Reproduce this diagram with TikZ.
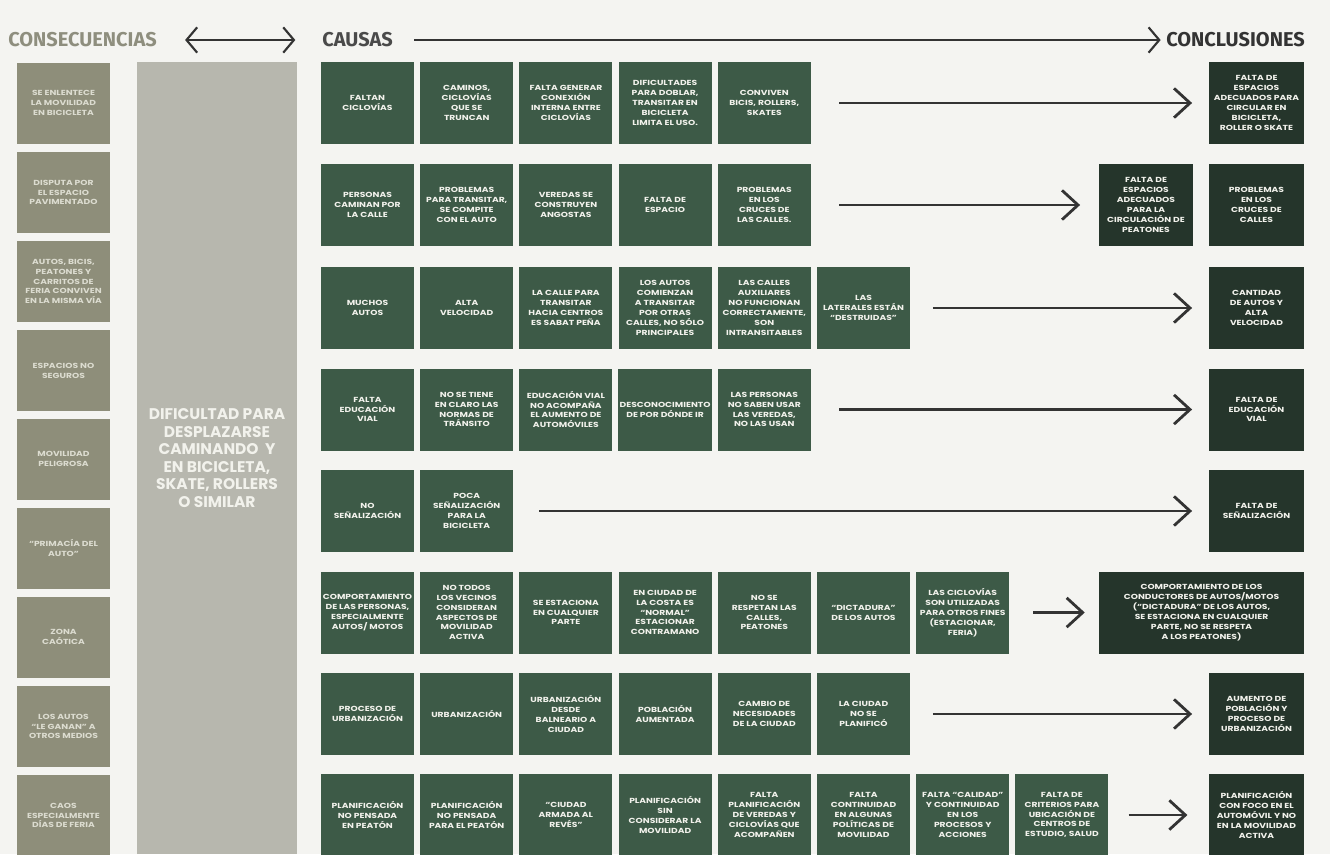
\documentclass[tikz,border=0pt]{standalone}
\usepackage{fontspec}
\newfontfamily\pop{Poppins}
\newfontfamily\popw[FakeStretch=1.25]{Poppins}
\newfontfamily\fira{Fira Sans}
\usetikzlibrary{arrows.meta}
\definecolor{bg}{HTML}{F4F4F1}
\definecolor{causeg}{HTML}{3D5A47}
\definecolor{concg}{HTML}{25352B}
\definecolor{consg}{HTML}{8E8E7A}
\definecolor{colg}{HTML}{B7B7AE}
\definecolor{arr}{HTML}{333333}
\definecolor{boxtxt}{HTML}{F2F2EC}
\definecolor{constxt}{HTML}{DCDCD0}
\definecolor{hgray}{HTML}{8E8E7E}
\definecolor{hdark}{HTML}{4A4A4A}
\definecolor{hdarker}{HTML}{333333}
\tikzset{
  fb/.tip={Straight Barb[length=12pt,width=22pt,line width=2.1pt]},
  hb/.tip={Straight Barb[length=8pt,width=19pt,line width=1.6pt]}
}
\begin{document}
\begin{tikzpicture}[x=0.75pt,y=-0.75pt,
  box/.style={rectangle, inner sep=1pt, align=center, text=boxtxt,
    font=\popw\bfseries\fontsize{5.5}{7.4}\selectfont,
    minimum width=69.75pt, minimum height=61.5pt},
  cause/.style={box, fill=causeg},
  concl/.style={box, fill=concg, minimum width=71.25pt},
  cons/.style={box, fill=consg, text=constxt, minimum height=60.75pt},
  flow/.style={draw=arr, line width=2pt, arrows={-fb}},
  harrow/.style={draw=arr, line width=1.5pt},
  hdr/.style={font=\fira\bfseries\fontsize{15}{17}\selectfont, inner sep=0pt}
]
\fill[bg] (0,0) rectangle (1330,854);
\useasboundingbox (0,0) rectangle (1330,854);

% header
\node[hdr, text=hgray, anchor=west] (hcons) at (8,40) {CONSECUENCIAS};
\node[hdr, text=hdark, anchor=west] (hcaus) at (322,40) {CAUSAS};
\node[hdr, text=hdarker, anchor=east] (hconc) at (1305,40) {CONCLUSIONES};
\draw[harrow, arrows={hb-hb}, shorten <=21pt, shorten >=20pt] (hcons.east) -- (hcaus.west);
\draw[harrow, arrows={-hb}, shorten <=16pt, shorten >=4pt] (hcaus.east) -- (hconc.west);

% consequences
\node[cons] (k1) at (63.5,103) {SE ENLENTECE\\LA MOVILIDAD\\EN BICICLETA};
\node[cons] (k2) at (63.5,192.5) {DISPUTA POR\\EL ESPACIO\\PAVIMENTADO};
\node[cons] (k3) at (63.5,281.5) {AUTOS, BICIS,\\PEATONES Y\\CARRITOS DE\\FERIA CONVIVEN\\EN LA MISMA VÍA};
\node[cons] (k4) at (63.5,370.5) {ESPACIOS NO\\SEGUROS};
\node[cons] (k5) at (63.5,459) {MOVILIDAD\\PELIGROSA};
\node[cons] (k6) at (63.5,548) {“PRIMACÍA DEL\\AUTO”};
\node[cons] (k7) at (63.5,637) {ZONA\\CAÓTICA};
\node[cons] (k8) at (63.5,726.5) {LOS AUTOS\\“LE GANAN” A\\OTROS MEDIOS};
\node[cons] (k9) at (63.5,815.5) {CAOS\\ESPECIALMENTE\\DÍAS DE FERIA};

% central problem
\node[fill=colg, minimum width=120pt, minimum height=594pt, inner sep=0pt, align=center,
  text=boxtxt, font=\pop\bfseries\fontsize{11.6}{13.1}\selectfont] (dif) at (217,458)
  {DIFICULTAD PARA\\DESPLAZARSE\\CAMINANDO\ \ Y\\EN BICICLETA,\\SKATE, ROLLERS\\O SIMILAR};

% row 1
\node[cause] (r1c1) at (367.5,103) {FALTAN\\CICLOVÍAS};
\node[cause] (r1c2) at (466.7,103) {CAMINOS,\\CICLOVÍAS\\QUE SE\\TRUNCAN};
\node[cause] (r1c3) at (565.9,103) {FALTA GENERAR\\CONEXIÓN\\INTERNA ENTRE\\CICLOVÍAS};
\node[cause] (r1c4) at (665.1,103) {DIFICULTADES\\PARA DOBLAR,\\TRANSITAR EN\\BICICLETA\\LIMITA EL USO.};
\node[cause] (r1c5) at (764.3,103) {CONVIVEN\\BICIS, ROLLERS,\\SKATES};
\node[concl] (r1k) at (1256.5,103) {FALTA DE\\ESPACIOS\\ADECUADOS PARA\\CIRCULAR EN\\BICICLETA,\\ROLLER O SKATE};
\draw[flow, shorten <=21pt, shorten >=12.5pt] (r1c5.east) -- (r1k.west);

% row 2
\node[cause] (r2c1) at (367.5,205) {PERSONAS\\CAMINAN POR\\LA CALLE};
\node[cause] (r2c2) at (466.7,205) {PROBLEMAS\\PARA TRANSITAR,\\SE COMPITE\\CON EL AUTO};
\node[cause] (r2c3) at (565.9,205) {VEREDAS SE\\CONSTRUYEN\\ANGOSTAS};
\node[cause] (r2c4) at (665.1,205) {FALTA DE\\ESPACIO};
\node[cause] (r2c5) at (764.3,205) {PROBLEMAS\\EN LOS\\CRUCES DE\\LAS CALLES.};
\node[concl, minimum width=70.5pt] (r2a) at (1146,205) {FALTA DE\\ESPACIOS\\ADECUADOS\\PARA LA\\CIRCULACIÓN DE\\PEATONES};
\node[concl] (r2k) at (1256.5,205) {PROBLEMAS\\EN LOS\\CRUCES DE\\CALLES};
\draw[flow, shorten <=21pt, shorten >=14pt] (r2c5.east) -- (r2a.west);

% row 3
\node[cause] (r3c1) at (367.5,308) {MUCHOS\\AUTOS};
\node[cause] (r3c2) at (466.7,308) {ALTA\\VELOCIDAD};
\node[cause] (r3c3) at (565.9,308) {LA CALLE PARA\\TRANSITAR\\HACIA CENTROS\\ES SABAT PEÑA};
\node[cause] (r3c4) at (665.1,308) {LOS AUTOS\\COMIENZAN\\A TRANSITAR\\POR OTRAS\\CALLES, NO SÓLO\\PRINCIPALES};
\node[cause] (r3c5) at (764.3,308) {LAS CALLES\\AUXILIARES\\NO FUNCIONAN\\CORRECTAMENTE,\\SON\\INTRANSITABLES};
\node[cause] (r3c6) at (863.5,308) {LAS\\LATERALES ESTÁN\\“DESTRUIDAS”};
\node[concl] (r3k) at (1256.5,308) {CANTIDAD\\DE AUTOS Y\\ALTA\\VELOCIDAD};
\draw[flow, shorten <=17pt, shorten >=12.5pt] (r3c6.east) -- (r3k.west);

% row 4
\node[cause] (r4c1) at (367.5,409.5) {FALTA\\EDUCACIÓN\\VIAL};
\node[cause] (r4c2) at (466.7,409.5) {NO SE TIENE\\EN CLARO LAS\\NORMAS DE\\TRÁNSITO};
\node[cause] (r4c3) at (565.9,409.5) {EDUCACIÓN VIAL\\NO ACOMPAÑA\\EL AUMENTO DE\\AUTOMÓVILES};
\node[cause] (r4c4) at (665.1,409.5) {DESCONOCIMIENTO\\DE POR DÓNDE IR};
\node[cause] (r4c5) at (764.3,409.5) {LAS PERSONAS\\NO SABEN USAR\\LAS VEREDAS,\\NO LAS USAN};
\node[concl] (r4k) at (1256.5,409.5) {FALTA DE\\EDUCACIÓN\\VIAL};
\draw[flow, shorten <=21pt, shorten >=12.5pt] (r4c5.east) -- (r4k.west);

% row 5
\node[cause] (r5c1) at (367.5,511) {NO\\SEÑALIZACIÓN};
\node[cause] (r5c2) at (466.7,511) {POCA\\SEÑALIZACIÓN\\PARA LA\\BICICLETA};
\node[concl] (r5k) at (1256.5,511) {FALTA DE\\SEÑALIZACIÓN};
\draw[flow, shorten <=19.5pt, shorten >=12.5pt] (r5c2.east) -- (r5k.west);

% row 6
\node[cause] (r6c1) at (367.5,612.5) {COMPORTAMIENTO\\DE LAS PERSONAS,\\ESPECIALMENTE\\AUTOS/ MOTOS};
\node[cause] (r6c2) at (466.7,612.5) {NO TODOS\\LOS VECINOS\\CONSIDERAN\\ASPECTOS DE\\MOVILIDAD\\ACTIVA};
\node[cause] (r6c3) at (565.9,612.5) {SE ESTACIONA\\EN CUALQUIER\\PARTE};
\node[cause] (r6c4) at (665.1,612.5) {EN CIUDAD DE\\LA COSTA ES\\“NORMAL”\\ESTACIONAR\\CONTRAMANO};
\node[cause] (r6c5) at (764.3,612.5) {NO SE\\RESPETAN LAS\\CALLES,\\PEATONES};
\node[cause] (r6c6) at (863.5,612.5) {“DICTADURA”\\DE LOS AUTOS};
\node[cause] (r6c7) at (962.7,612.5) {LAS CICLOVÍAS\\SON UTILIZADAS\\PARA OTROS FINES\\(ESTACIONAR,\\FERIA)};
\node[concl, minimum width=153.75pt] (r6k) at (1201.5,612.5) {COMPORTAMIENTO DE LOS\\CONDUCTORES DE AUTOS/MOTOS\\(“DICTADURA” DE LOS AUTOS,\\SE ESTACIONA EN CUALQUIER\\PARTE, NO SE RESPETA\\A LOS PEATONES)};
\draw[flow, shorten <=18pt, shorten >=10.5pt] (r6c7.east) -- (r6k.west);

% row 7
\node[cause] (r7c1) at (367.5,714) {PROCESO DE\\URBANIZACIÓN};
\node[cause] (r7c2) at (466.7,714) {URBANIZACIÓN};
\node[cause] (r7c3) at (565.9,714) {URBANIZACIÓN\\DESDE\\BALNEARIO A\\CIUDAD};
\node[cause] (r7c4) at (665.1,714) {POBLACIÓN\\AUMENTADA};
\node[cause] (r7c5) at (764.3,714) {CAMBIO DE\\NECESIDADES\\DE LA CIUDAD};
\node[cause] (r7c6) at (863.5,714) {LA CIUDAD\\NO SE\\PLANIFICÓ};
\node[concl] (r7k) at (1256.5,714) {AUMENTO DE\\POBLACIÓN Y\\PROCESO DE\\URBANIZACIÓN};
\draw[flow, shorten <=17pt, shorten >=12.5pt] (r7c6.east) -- (r7k.west);

% row 8
\node[cause] (r8c1) at (367.5,815) {PLANIFICACIÓN\\NO PENSADA\\EN PEATÓN};
\node[cause] (r8c2) at (466.7,815) {PLANIFICACIÓN\\NO PENSADA\\PARA EL PEATÓN};
\node[cause] (r8c3) at (565.9,815) {“CIUDAD\\ARMADA AL\\REVÉS”};
\node[cause] (r8c4) at (665.1,815) {PLANIFICACIÓN\\SIN\\CONSIDERAR LA\\MOVILIDAD};
\node[cause] (r8c5) at (764.3,815) {FALTA\\PLANIFICACIÓN\\DE VEREDAS Y\\CICLOVÍAS QUE\\ACOMPAÑEN};
\node[cause] (r8c6) at (863.5,815) {FALTA\\CONTINUIDAD\\EN ALGUNAS\\POLÍTICAS DE\\MOVILIDAD};
\node[cause] (r8c7) at (962.7,815) {FALTA “CALIDAD”\\Y CONTINUIDAD\\EN LOS\\PROCESOS Y\\ACCIONES};
\node[cause] (r8c8) at (1061.9,815) {FALTA DE\\CRITERIOS PARA\\UBICACIÓN DE\\CENTROS DE\\ESTUDIO, SALUD};
\node[concl] (r8k) at (1256.5,815) {PLANIFICACIÓN\\CON FOCO EN EL\\AUTOMÓVIL Y NO\\EN LA MOVILIDAD\\ACTIVA};
\draw[flow, shorten <=15pt, shorten >=16pt] (r8c8.east) -- (r8k.west);
\end{tikzpicture}
\end{document}
